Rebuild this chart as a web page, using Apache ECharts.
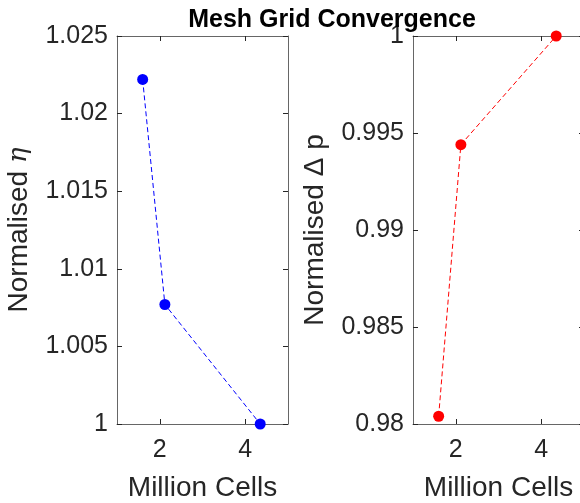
<!DOCTYPE html>
<html>
<head>
<meta charset="utf-8">
<script src="https://cdn.jsdelivr.net/npm/echarts@6/dist/echarts.min.js"></script>
<style>
    html, body { margin: 0; padding: 0; background: #fff; }
    #chart { width: 580px; height: 503px; }
</style>
</head>
<body>
<div id="chart"></div>
<script>
    // data
    const cells = [1.6, 2.12, 4.35];          // million cells
    const etaNorm = [1.0222, 1.0077, 1.0];    // normalised eta
    const dpNorm = [0.9804, 0.9944, 1.0];     // normalised delta p
    const xTicks = [2, 4];

    const font = '"Liberation Sans", Helvetica, Arial, sans-serif';
    const axisColor = '#262626';

    function fmt(v) {
        return String(+v.toFixed(3));
    }

    // main x axis (bottom) + frame axis (top)
    function xAxes(gridIndex) {
        const base = {
            gridIndex: gridIndex,
            type: 'value',
            min: 1,
            max: 5,
            splitLine: { show: false },
            axisLine: { onZero: false, lineStyle: { color: '#666', width: 1 } },
            axisTick: { inside: true, length: 5, customValues: xTicks, lineStyle: { color: axisColor } }
        };
        return [
            Object.assign({}, base, {
                position: 'bottom',
                name: 'Million Cells',
                nameLocation: 'middle',
                nameGap: 50,
                nameTextStyle: { fontFamily: font, fontSize: 28, color: axisColor },
                axisLabel: { customValues: xTicks, margin: 14, fontFamily: font, fontSize: 25, color: axisColor }
            }),
            Object.assign({}, base, {
                position: 'top',
                axisLabel: { show: false }
            })
        ];
    }

    function yAxes(gridIndex, min, max, name) {
        const base = {
            gridIndex: gridIndex,
            type: 'value',
            min: min,
            max: max,
            interval: 0.005,
            splitLine: { show: false },
            axisLine: { onZero: false, lineStyle: { color: '#666', width: 1 } },
            axisTick: { inside: true, length: 5, lineStyle: { color: axisColor } }
        };
        return [
            Object.assign({}, base, {
                position: 'left',
                name: name,
                nameLocation: 'middle',
                nameGap: 84,
                nameTextStyle: {
                    fontFamily: font, fontSize: 28, color: axisColor,
                    rich: {
                        n: { fontFamily: font, fontSize: 28, color: axisColor },
                        i: { fontFamily: '"DejaVu Serif", serif', fontStyle: 'italic', fontSize: 26, color: axisColor }
                    }
                },
                axisLabel: { margin: 9, fontFamily: font, fontSize: 25, color: axisColor, formatter: fmt }
            }),
            Object.assign({}, base, {
                position: 'right',
                axisLabel: { show: false }
            })
        ];
    }

    let myChart = echarts.init(document.getElementById('chart'));
    let option = {
        animation: false,
        title: {
            text: 'Mesh Grid Convergence',
            left: 327,
            top: 3,
            textAlign: 'center',
            textStyle: { fontFamily: font, fontSize: 25, fontWeight: 'bold', color: '#000' }
        },
        grid: [
            { left: 117, top: 36, width: 171, height: 388, containLabel: false, outerBoundsMode: 'none' },
            { left: 413, top: 36, width: 171, height: 388, containLabel: false, outerBoundsMode: 'none' }
        ],
        xAxis: xAxes(0).concat(xAxes(1)),
        yAxis: yAxes(0, 1, 1.025, '{n|Normalised }{i|η}')
            .concat(yAxes(1, 0.98, 1, 'Normalised Δ p')),
        series: [
            {
                type: 'line',
                xAxisIndex: 0,
                yAxisIndex: 0,
                data: cells.map((c, i) => [c, etaNorm[i]]),
                symbol: 'circle',
                symbolSize: 11,
                itemStyle: { color: '#0000ff' },
                lineStyle: { color: '#0000ff', width: 1, type: [5, 3] }
            },
            {
                type: 'line',
                xAxisIndex: 2,
                yAxisIndex: 2,
                data: cells.map((c, i) => [c, dpNorm[i]]),
                symbol: 'circle',
                symbolSize: 11,
                itemStyle: { color: '#ff0000' },
                lineStyle: { color: '#ff0000', width: 1, type: [5, 3] }
            }
        ]
    };
    myChart.setOption(option);
</script>
</body>
</html>
